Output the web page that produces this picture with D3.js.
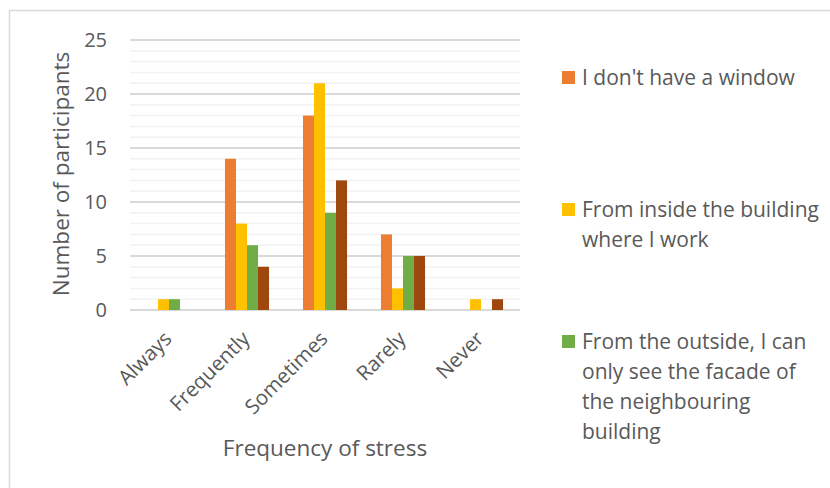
<!DOCTYPE html>
<html>
<head>
<meta charset="utf-8">
<script src="https://cdn.jsdelivr.net/npm/d3@7"></script>
<style>
  html, body { margin: 0; padding: 0; background: #ffffff; }
  svg { display: block; font-family: "Open Sans", "Noto Sans", sans-serif; }
</style>
</head>
<body>
<svg id="chart" width="830" height="488"></svg>
<script>
// Survey responses: how often stress is felt, grouped by the view from the workplace
const categories = ["Always", "Frequently", "Sometimes", "Rarely", "Never"];
const seriesNames = [
  "I don't have a window",
  "From inside the building where I work",
  "From the outside, I can only see the facade of the neighbouring building",
  "series4"
];
const noWindow      = [0, 14, 18, 7, 0];
const insideView    = [1, 8, 21, 2, 1];
const facadeView    = [1, 6, 9, 5, 0];
const series4Values = [0, 4, 12, 5, 1];
const seriesValues = [noWindow, insideView, facadeView, series4Values];
const seriesColors = ["#ED7D31", "#FFC000", "#70AD47", "#9E480E"];
const yTicks = [0, 5, 10, 15, 20, 25];

// Legend entries that are shown, with their wrapped lines
const legendLines = [
  ["I don't have a window"],
  ["From inside the building", "where I work"],
  ["From the outside, I can", "only see the facade of", "the neighbouring", "building"]
];

const svg = d3.select("#chart");
const textColor = "#595959";

// outer chart frame
svg.append("rect")
  .attr("x", 9.5).attr("y", 10.5)
  .attr("width", 840).attr("height", 500)
  .attr("fill", "none").attr("stroke", "#d9d9d9").attr("stroke-width", 1.5);

const plot = { left: 130, right: 520, top: 40, bottom: 310 };

const x = d3.scaleBand().domain(categories).range([plot.left, plot.right]);
const y = d3.scaleLinear().domain([0, 25]).range([plot.bottom, plot.top]);
const groupWidth = x.bandwidth() * 0.565;
const xs = d3.scaleBand().domain(d3.range(seriesValues.length)).range([0, groupWidth]);

// minor gridlines
svg.append("g").selectAll("line")
  .data(d3.range(0, 26).filter(v => v % 5 !== 0))
  .join("line")
  .attr("x1", plot.left).attr("x2", plot.right)
  .attr("y1", d => y(d)).attr("y2", d => y(d))
  .attr("stroke", "#f2f2f2").attr("stroke-width", 1.5);

// major gridlines
svg.append("g").selectAll("line")
  .data(yTicks)
  .join("line")
  .attr("x1", plot.left).attr("x2", plot.right)
  .attr("y1", d => y(d)).attr("y2", d => y(d))
  .attr("stroke", "#d9d9d9").attr("stroke-width", 2);

// y axis labels
const yAxis = svg.append("g")
  .attr("transform", `translate(${plot.left - 23},0)`)
  .call(d3.axisLeft(y).tickValues(yTicks).tickSize(0).tickPadding(0));
yAxis.select(".domain").remove();
yAxis.selectAll("text")
  .attr("fill", textColor)
  .style("font-family", "'Open Sans', sans-serif")
  .style("font-size", "20px");

// bars
const groups = svg.append("g").selectAll("g")
  .data(seriesValues)
  .join("g")
  .attr("fill", (d, i) => seriesColors[i]);

groups.each(function (vals, si) {
  d3.select(this).selectAll("rect")
    .data(vals.map((v, ci) => ({ v, c: categories[ci] })))
    .join("rect")
    .attr("x", d => x(d.c) + (x.bandwidth() - groupWidth) / 2 + xs(si))
    .attr("width", xs.bandwidth())
    .attr("y", d => y(d.v))
    .attr("height", d => y(0) - y(d.v));
});

// x axis labels, rotated
const xAxis = svg.append("g")
  .attr("transform", `translate(0,${plot.bottom})`)
  .call(d3.axisBottom(x).tickSize(0).tickPadding(0));
xAxis.select(".domain").remove();
xAxis.selectAll("text")
  .attr("fill", textColor)
  .style("font-family", "'Open Sans', sans-serif")
  .style("font-size", "20.5px")
  .attr("text-anchor", "end")
  .attr("dy", "0")
  .attr("transform", "translate(4,30) rotate(-45)");

// axis titles
svg.append("text")
  .attr("x", 325).attr("y", 456)
  .attr("text-anchor", "middle")
  .attr("fill", textColor)
  .style("font-size", "22.5px")
  .text("Frequency of stress");

svg.append("text")
  .attr("transform", `translate(69,${(plot.top + plot.bottom) / 2 - 1}) rotate(-90)`)
  .attr("text-anchor", "middle")
  .attr("fill", textColor)
  .style("font-size", "22.5px")
  .text("Number of participants");

// legend
const legendY = [78, 210, 342];
const legend = svg.append("g");
legendLines.forEach((lines, i) => {
  const g = legend.append("g").attr("transform", `translate(562,${legendY[i]})`);
  g.append("rect")
    .attr("x", 0).attr("y", -7)
    .attr("width", 13).attr("height", 13)
    .attr("fill", seriesColors[i]);
  g.selectAll("text")
    .data(lines)
    .join("text")
    .attr("x", 20)
    .attr("y", (d, k) => k * 30)
    .attr("dy", "0.35em")
    .attr("fill", textColor)
    .style("font-size", "21px")
    .text(d => d);
});
</script>
</body>
</html>
